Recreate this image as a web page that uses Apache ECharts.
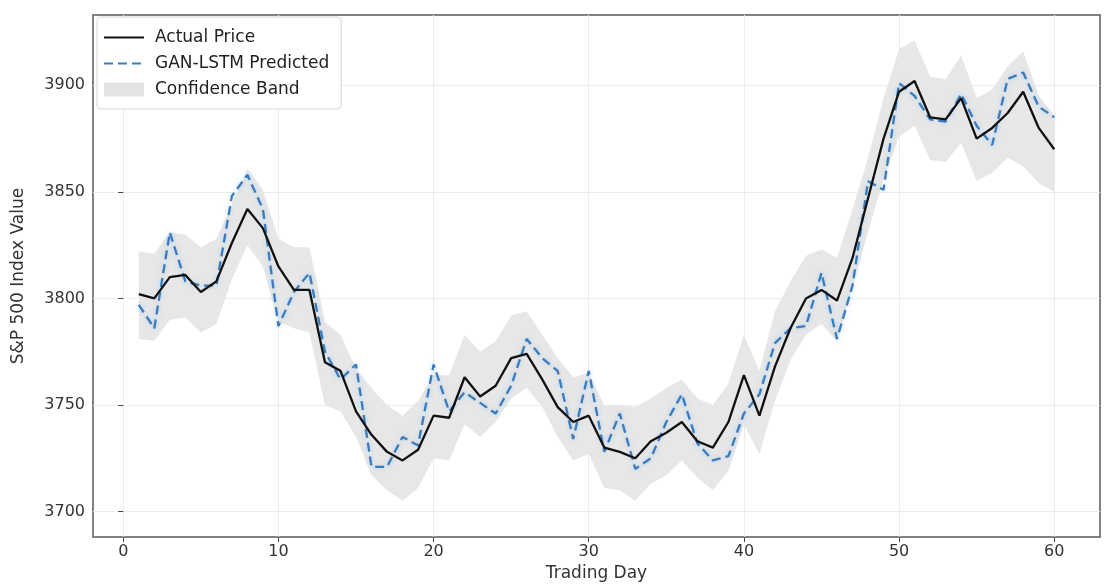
<!DOCTYPE html>
<html>
<head>
<meta charset="utf-8">
<script src="https://cdn.jsdelivr.net/npm/echarts@6/dist/echarts.min.js"></script>
<style>html,body{margin:0;padding:0;background:#fff}#c{width:1105px;height:587px}</style>
</head>
<body>
<div id="c"></div>
<script>
var days = [];
for (var d = 1; d <= 60; d++) days.push(d);

var actualPrice = [3802,3800,3810,3811,3803,3808,3826,3842,3833,3815,
  3804,3804,3770,3766,3747,3736,3728,3724,3729,3745,
  3744,3763,3754,3759,3772,3774,3762,3749,3742,3745,
  3730,3728,3725,3733,3737,3742,3733,3730,3742,3764,
  3745,3768,3786,3800,3804,3799,3819,3847,3875,3897,
  3902,3885,3884,3894,3875,3880,3887,3897,3880,3870];

var predicted = [3797,3786,3831,3808,3806,3806,3848,3858,3842,3787,
  3803,3812,3775,3762,3769,3721,3721,3735,3731,3769,
  3747,3756,3751,3746,3759,3781,3772,3766,3734,3766,
  3728,3746,3720,3725,3742,3755,3732,3724,3726,3746,
  3755,3779,3786,3787,3812,3781,3806,3855,3851,3901,
  3895,3884,3883,3896,3881,3872,3903,3906,3890,3885];

var bandUpper = [3822,3821,3831,3830,3824,3828,3844,3861,3851,3828,
  3824,3824,3789,3783,3767,3758,3750,3745,3752,3764,
  3764,3783,3775,3780,3792,3794,3783,3772,3763,3765,
  3750,3750,3749,3753,3758,3762,3753,3750,3760,3783,
  3766,3794,3808,3820,3823,3819,3842,3866,3894,3917,
  3921,3904,3903,3914,3894,3898,3909,3916,3895,3886];

var bandLower = [3781,3780,3790,3791,3784,3788,3809,3825,3815,3789,
  3786,3784,3750,3747,3735,3717,3710,3705,3711,3725,
  3724,3741,3735,3742,3753,3758,3749,3735,3724,3727,
  3711,3710,3705,3713,3717,3724,3716,3710,3719,3741,
  3727,3752,3771,3783,3788,3780,3805,3831,3856,3876,
  3881,3865,3864,3873,3855,3859,3866,3862,3854,3850];

var xTicks = [0,10,20,30,40,50,60];
var yTicks = [3700,3750,3800,3850,3900];

function pairs(arr){ return days.map(function(d,i){ return [d, arr[i]]; }); }
var bandData = days.map(function(d,i){ return [d, bandLower[i], bandUpper[i]]; });

var font = 'DejaVu Sans';
var chart = echarts.init(document.getElementById('c'), null, {renderer:'canvas'});
chart.setOption({
  animation: false,
  textStyle: {fontFamily: font},
  grid: {left: 93, right: 5, top: 15, bottom: 47, show: true, borderColor: '#5a5a5a', borderWidth: 1.5, backgroundColor: 'transparent'},
  legend: {
    orient: 'vertical', left: 97, top: 17,
    itemWidth: 40, itemHeight: 14, itemGap: 9,
    backgroundColor: '#fff', borderColor: '#d6d6d6', borderWidth: 1, borderRadius: 4,
    padding: [12, 12, 11, 6],
    textStyle: {fontFamily: font, fontSize: 17, color: '#222', padding: [0, 0, 0, 6]},
    data: [
      {name: 'Actual Price', itemStyle: {color: 'rgba(0,0,0,0)', borderWidth: 0, opacity: 0}},
      {name: 'GAN-LSTM Predicted', itemStyle: {color: 'rgba(0,0,0,0)', borderWidth: 0, opacity: 0}},
      {name: 'Confidence Band', icon: 'rect', itemStyle: {color: '#e3e3e3'}}
    ]
  },
  xAxis: {
    type: 'value', min: -1.95, max: 62.95,
    name: 'Trading Day', nameLocation: 'middle', nameGap: 23,
    nameTextStyle: {fontFamily: font, fontSize: 17, color: '#333'},
    axisLine: {show: false},
    axisTick: {show: true, length: 5, lineStyle: {color: '#444'}, customValues: xTicks},
    axisLabel: {fontFamily: font, fontSize: 16, color: '#333', margin: 7, customValues: xTicks,
      formatter: function(v){ return String(v); }},
    splitLine: {show: true, lineStyle: {color: '#ececec', width: 1}}
  },
  yAxis: {
    type: 'value', min: 3688, max: 3933,
    name: 'S&P 500 Index Value', nameLocation: 'middle', nameGap: 66,
    nameTextStyle: {fontFamily: font, fontSize: 17, color: '#333'},
    axisLine: {show: false},
    axisTick: {show: true, length: 5, lineStyle: {color: '#444'}, customValues: yTicks},
    axisLabel: {fontFamily: font, fontSize: 16, color: '#333', margin: 8, customValues: yTicks,
      formatter: function(v){ return String(v); }},
    splitLine: {show: true, lineStyle: {color: '#ececec', width: 1}}
  },
  series: [
    {
      name: 'Confidence Band', type: 'custom', data: bandData,
      encode: {x: 0, y: [1, 2]}, silent: true, z: 1,
      itemStyle: {color: '#e3e3e3'},
      renderItem: function(params, api){
        if (params.dataIndex !== 0) return null;
        var pts = [];
        for (var i = 0; i < bandData.length; i++) pts.push(api.coord([bandData[i][0], bandData[i][2]]));
        for (var j = bandData.length - 1; j >= 0; j--) pts.push(api.coord([bandData[j][0], bandData[j][1]]));
        return {type: 'polygon', shape: {points: pts}, style: {fill: '#e7e7e7', stroke: null}};
      }
    },
    {
      name: 'GAN-LSTM Predicted', type: 'line', data: pairs(predicted), symbol: 'none',
      color: '#3a7bbd',
      lineStyle: {color: '#3a7bbd', width: 2.3, type: [9, 5], shadowColor: 'rgba(120,185,245,0.6)', shadowBlur: 5},
      z: 3
    },
    {
      name: 'Actual Price', type: 'line', data: pairs(actualPrice), symbol: 'none',
      color: '#111',
      lineStyle: {color: '#111', width: 2.3},
      z: 4
    }
  ]
});
</script>
</body>
</html>
